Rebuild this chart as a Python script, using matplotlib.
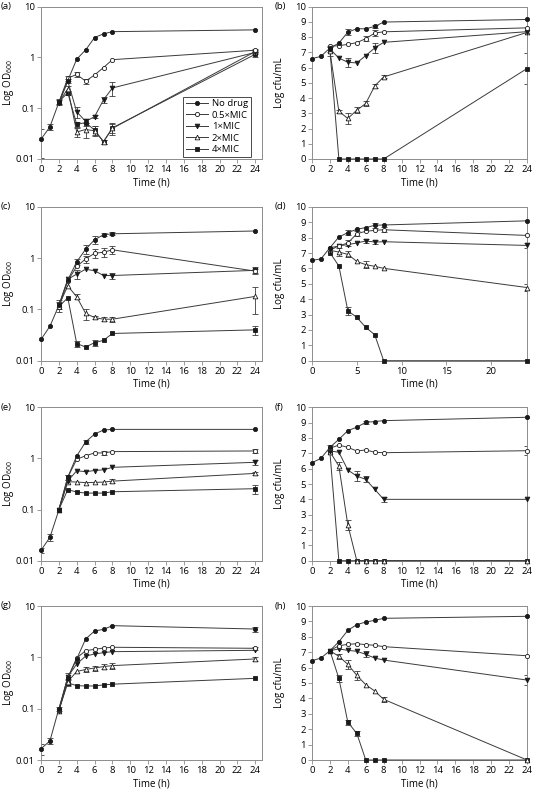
import numpy as np
import matplotlib.pyplot as plt
from matplotlib.ticker import FixedLocator, FixedFormatter

plt.rcParams['font.family'] = ['Open Sans', 'DejaVu Sans']
plt.rcParams['mathtext.default'] = 'regular'

# time points (h)
t_nodrug = [0, 1, 2, 3, 4, 5, 6, 7, 8, 24]
t_drug = [2, 3, 4, 5, 6, 7, 8, 24]
series_labels = ['No drug', '0.5×MIC', '1×MIC', '2×MIC', '4×MIC']

# (a) OD600
a_nodrug = [0.0245, 0.043, 0.13, 0.35, 0.92, 1.4, 2.45, 2.9, 3.2, 3.47]
a_half = [0.13, 0.39, 0.46, 0.34, 0.45, 0.63, 0.9, 1.38]
a_one = [0.125, 0.34, 0.085, 0.055, 0.068, 0.146, 0.25, 1.25]
a_two = [0.13, 0.24, 0.034, 0.038, 0.036, 0.022, 0.04, 1.3]
a_four = [0.135, 0.2, 0.048, 0.052, 0.037, 0.022, 0.041, 1.15]
a_nodrug_err = [0.014, 0.006, 0, 0, 0, 0, 0, 0, 0, 0]
a_half_err = [0, 0.04, 0.05, 0.04, 0, 0, 0, 0.1]
a_one_err = [0, 0.03, 0.02, 0.005, 0.005, 0.02, 0.08, 0.1]
a_two_err = [0.015, 0.03, 0.007, 0.012, 0.008, 0.002, 0.01, 0.1]
a_four_err = [0.015, 0.02, 0.005, 0.008, 0.008, 0.002, 0.008, 0.15]

# (b) log cfu/mL
b_nodrug = [6.58, 6.73, 7.28, 7.6, 8.32, 8.54, 8.54, 8.69, 8.98, 9.15]
b_half = [7.39, 7.43, 7.52, 7.63, 7.89, 8.26, 8.34, 8.6]
b_one = [7.21, 6.62, 6.34, 6.3, 6.78, 7.28, 7.65, 8.35]
b_two = [7.06, 3.12, 2.66, 3.2, 3.64, 4.79, 5.38, 8.3]
b_four = [7.17, 0, 0, 0, 0, 0, 0, 5.93]
b_nodrug_err = [0, 0, 0, 0, 0.2, 0, 0, 0.1, 0, 0]
b_half_err = [0, 0, 0, 0, 0.15, 0.2, 0, 0]
b_one_err = [0.2, 0, 0.3, 0, 0, 0.35, 0, 0]
b_two_err = [0.3, 0.1, 0.35, 0.2, 0.15, 0.15, 0.1, 0]
b_four_err = [0, 0, 0, 0, 0, 0, 0, 1.0]

# (c) OD600
c_nodrug = [0.026, 0.047, 0.12, 0.376, 0.85, 1.5, 2.3, 2.87, 3.0, 3.4]
c_half = [0.11, 0.365, 0.69, 0.97, 1.25, 1.31, 1.46, 0.56]
c_one = [0.12, 0.39, 0.49, 0.61, 0.57, 0.46, 0.46, 0.58]
c_two = [0.12, 0.287, 0.177, 0.0835, 0.0697, 0.0646, 0.0646, 0.18]
c_four = [0.113, 0.17, 0.0216, 0.0185, 0.0225, 0.025, 0.034, 0.04]
c_nodrug_err = [0, 0, 0.02, 0, 0.1, 0.3, 0.4, 0.2, 0.2, 0]
c_half_err = [0, 0, 0, 0.15, 0.25, 0.25, 0.25, 0.05]
c_one_err = [0, 0, 0.1, 0, 0, 0, 0.06, 0.08]
c_two_err = [0.03, 0, 0.02, 0.02, 0.005, 0.006, 0.008, 0.1]
c_four_err = [0, 0, 0.003, 0, 0.003, 0, 0, 0.008]

# (d) log cfu/mL
d_nodrug = [6.53, 6.62, 7.35, 8.05, 8.33, 8.55, 8.66, 8.81, 8.83, 9.1]
d_half = [7.35, 7.46, 7.66, 8.26, 8.42, 8.48, 8.52, 8.15]
d_one = [7.18, 7.48, 7.55, 7.66, 7.79, 7.72, 7.74, 7.5]
d_two = [7.18, 7.07, 6.92, 6.46, 6.25, 6.14, 6.01, 4.76]
d_four = [7.03, 6.16, 3.25, 2.82, 2.17, 1.69, 0, 0]
d_nodrug_err = [0, 0, 0, 0, 0.15, 0, 0, 0.15, 0, 0]
d_half_err = [0, 0, 0.2, 0.15, 0, 0, 0.15, 0]
d_one_err = [0, 0, 0, 0, 0.15, 0.15, 0, 0.15]
d_two_err = [0, 0.25, 0.2, 0, 0.25, 0, 0, 0.2]
d_four_err = [0, 0, 0.25, 0, 0, 0, 0, 0]

# (e) OD600
e_nodrug = [0.016, 0.0286, 0.098, 0.43, 1.12, 2.1, 3.0, 3.6, 3.7, 3.7]
e_half = [0.1, 0.43, 0.96, 1.13, 1.28, 1.28, 1.36, 1.4]
e_one = [0.1, 0.36, 0.575, 0.55, 0.58, 0.6, 0.67, 0.84]
e_two = [0.1, 0.35, 0.346, 0.336, 0.34, 0.345, 0.36, 0.51]
e_four = [0.1, 0.245, 0.22, 0.21, 0.21, 0.21, 0.223, 0.256]
e_nodrug_err = [0.002, 0.004, 0, 0.05, 0, 0.2, 0, 0, 0, 0]
e_half_err = [0, 0.05, 0, 0, 0, 0.1, 0, 0.15]
e_one_err = [0, 0, 0, 0, 0, 0, 0, 0.1]
e_two_err = [0, 0, 0, 0, 0, 0, 0.03, 0.04]
e_four_err = [0, 0, 0, 0, 0, 0, 0, 0.05]

# (f) log cfu/mL
f_nodrug = [6.39, 6.67, 7.39, 7.91, 8.48, 8.7, 9.02, 9.07, 9.13, 9.35]
f_half = [7.33, 7.54, 7.39, 7.15, 7.22, 7.07, 7.04, 7.17]
f_one = [7.15, 7.07, 5.91, 5.52, 5.3, 4.65, 4.0, 4.0]
f_two = [7.1, 6.17, 2.33, 0, 0, 0, 0, 0]
f_four = [7.07, 0, 0, 0, 0, 0, 0, 0]
f_nodrug_err = [0, 0, 0, 0, 0, 0, 0.1, 0, 0, 0]
f_half_err = [0.2, 0, 0, 0, 0, 0, 0, 0.3]
f_one_err = [0, 0, 0, 0.3, 0.2, 0, 0.15, 0]
f_two_err = [0, 0.25, 0.35, 0, 0, 0, 0, 0]
f_four_err = [0, 0, 0, 0, 0, 0, 0, 0]

# (g) OD600
g_nodrug = [0.0166, 0.0235, 0.1, 0.4, 0.93, 2.28, 3.26, 3.5, 4.14, 3.56]
g_half = [0.095, 0.4, 0.97, 1.35, 1.43, 1.52, 1.57, 1.5]
g_one = [0.09, 0.42, 0.74, 1.06, 1.16, 1.23, 1.29, 1.37]
g_two = [0.09, 0.336, 0.53, 0.58, 0.62, 0.66, 0.69, 0.93]
g_four = [0.095, 0.32, 0.28, 0.277, 0.277, 0.29, 0.3, 0.39]
g_nodrug_err = [0.004, 0.003, 0.01, 0, 0, 0, 0, 0, 0, 0.4]
g_half_err = [0, 0.1, 0, 0, 0, 0, 0, 0.1]
g_one_err = [0, 0, 0, 0, 0, 0, 0, 0]
g_two_err = [0, 0.05, 0, 0.06, 0.07, 0.08, 0.1, 0.08]
g_four_err = [0, 0.04, 0, 0, 0, 0, 0, 0]

# (h) log cfu/mL
h_nodrug = [6.45, 6.62, 7.1, 7.68, 8.42, 8.79, 8.96, 9.07, 9.2, 9.33]
h_half = [7.1, 7.42, 7.51, 7.55, 7.49, 7.45, 7.36, 6.77]
h_one = [7.1, 7.21, 7.12, 7.06, 6.86, 6.62, 6.49, 5.19]
h_two = [7.1, 6.73, 6.21, 5.5, 4.89, 4.48, 3.94, 0]
h_four = [7.1, 5.3, 2.45, 1.73, 0, 0, 0, 0]
h_nodrug_err = [0, 0, 0, 0, 0, 0, 0, 0, 0, 0]
h_half_err = [0, 0, 0, 0, 0, 0, 0, 0]
h_one_err = [0, 0, 0, 0, 0.2, 0, 0, 0.3]
h_two_err = [0, 0.15, 0.3, 0.3, 0, 0, 0.15, 0]
h_four_err = [0, 0.25, 0.15, 0.15, 0, 0, 0, 0]

panels = [
    ('(a)', 'od', [a_nodrug, a_half, a_one, a_two, a_four],
     [a_nodrug_err, a_half_err, a_one_err, a_two_err, a_four_err]),
    ('(b)', 'cfu', [b_nodrug, b_half, b_one, b_two, b_four],
     [b_nodrug_err, b_half_err, b_one_err, b_two_err, b_four_err]),
    ('(c)', 'od', [c_nodrug, c_half, c_one, c_two, c_four],
     [c_nodrug_err, c_half_err, c_one_err, c_two_err, c_four_err]),
    ('(d)', 'cfu', [d_nodrug, d_half, d_one, d_two, d_four],
     [d_nodrug_err, d_half_err, d_one_err, d_two_err, d_four_err]),
    ('(e)', 'od', [e_nodrug, e_half, e_one, e_two, e_four],
     [e_nodrug_err, e_half_err, e_one_err, e_two_err, e_four_err]),
    ('(f)', 'cfu', [f_nodrug, f_half, f_one, f_two, f_four],
     [f_nodrug_err, f_half_err, f_one_err, f_two_err, f_four_err]),
    ('(g)', 'od', [g_nodrug, g_half, g_one, g_two, g_four],
     [g_nodrug_err, g_half_err, g_one_err, g_two_err, g_four_err]),
    ('(h)', 'cfu', [h_nodrug, h_half, h_one, h_two, h_four],
     [h_nodrug_err, h_half_err, h_one_err, h_two_err, h_four_err]),
]

markers = ['o', 'o', 'v', '^', 's']
faces = ['#1a1a1a', 'white', '#1a1a1a', 'white', '#1a1a1a']
msizes = [3.0, 3.0, 3.4, 3.4, 3.0]
frame_col = '#8c8c8c'
line_col = '#3a3a3a'

fig = plt.figure(figsize=(5.33, 7.93), dpi=100)

# axes rectangles in pixels: left, top, right, bottom
col_px = [(41, 262), (312, 527)]
row_px = [(6.5, 159), (207, 360.7), (407.3, 560.7), (606, 760)]

for i, (tag, kind, vals, errs) in enumerate(panels):
    r, c = divmod(i, 2)
    l, rr = col_px[c]
    top, bot = row_px[r]
    ax = fig.add_axes([l / 533, 1 - bot / 793, (rr - l) / 533, (bot - top) / 793])

    for k in range(5):
        t = t_nodrug if k == 0 else t_drug
        y = np.array(vals[k], dtype=float)
        e = np.array(errs[k], dtype=float)
        tt = np.array(t, dtype=float)
        m = e > 0
        if m.any():
            ax.errorbar(tt[m], y[m], yerr=e[m], fmt='none', ecolor=line_col,
                        elinewidth=0.6, capsize=2.2, capthick=0.6, zorder=2)
        ax.plot(tt, y, color=line_col, lw=0.7, marker=markers[k], ms=msizes[k],
                mfc=faces[k], mec='#1a1a1a', mew=0.6, label=series_labels[k],
                zorder=3 + (4 - k) * 0.1, clip_on=False)

    if kind == 'od':
        ax.set_yscale('log')
        ax.set_ylim(0.01, 10)
        ax.yaxis.set_major_locator(FixedLocator([0.01, 0.1, 1, 10]))
        ax.yaxis.set_major_formatter(FixedFormatter(['0.01', '0.1', '1', '10']))
        ax.yaxis.set_minor_locator(FixedLocator([]))
        ax.set_xlim(0, 24.75)
        ax.set_ylabel('Log OD$_{600}$', fontsize=7, va='center')
        ax.yaxis.set_label_coords(-0.148, 0.5)
    else:
        ax.set_ylim(0, 10)
        ax.set_yticks(range(0, 11))
        ax.set_xlim(0, 24)
        ax.set_ylabel('Log cfu/mL', fontsize=7, va='center')
        ax.yaxis.set_label_coords(-0.149, 0.5)

    if tag == '(d)':
        ax.set_xticks([0, 5, 10, 15, 20])
    else:
        ax.set_xticks(range(0, 25, 2))
    ax.set_xlabel('Time (h)', fontsize=7, labelpad=2)

    for s in ax.spines.values():
        s.set_color(frame_col)
        s.set_linewidth(0.7)
    ax.tick_params(direction='out', length=3, width=0.6, color=frame_col,
                   labelsize=6.8, pad=1.5)

    lx = -0.181 if c == 0 else -0.172
    ax.text(lx, 1.0, tag, transform=ax.transAxes, fontsize=6.8,
            ha='left', va='center')

    if tag == '(a)':
        leg = ax.legend(loc='lower right', bbox_to_anchor=(0.95, 0.015),
                        fontsize=6.8, frameon=True, fancybox=False,
                        handlelength=2.4, labelspacing=0.25, borderpad=0.3,
                        handletextpad=0.4, borderaxespad=0)
        leg.get_frame().set_edgecolor('#1a1a1a')
        leg.get_frame().set_linewidth(0.7)

fig.savefig('out.png', dpi=100)
